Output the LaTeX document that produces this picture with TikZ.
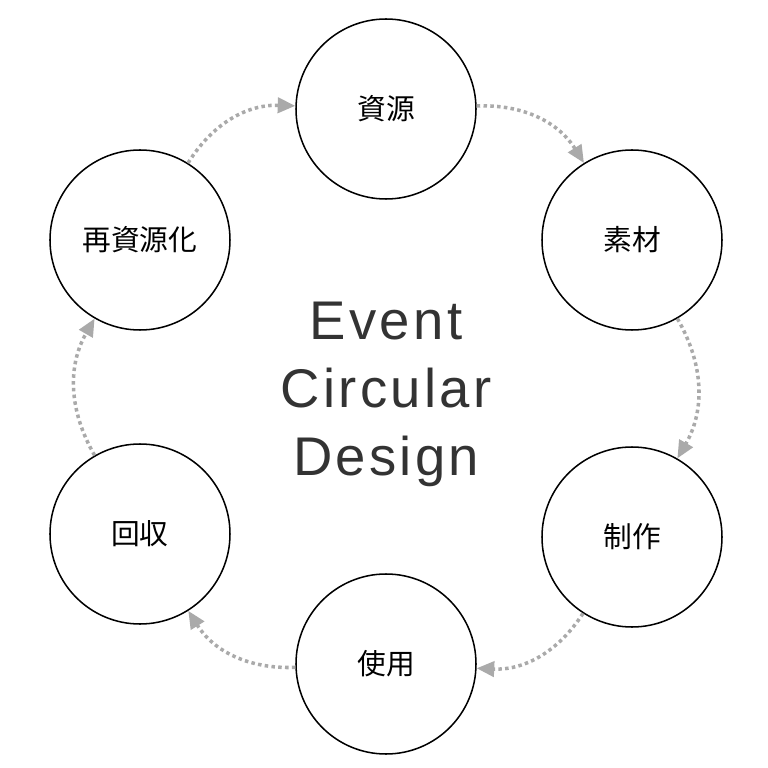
\documentclass[tikz,border=0pt]{standalone}
\usepackage{fontspec}
\newfontfamily\cjk{Noto Sans CJK JP}
\newfontfamily\heros[LetterSpace=6]{Liberation Sans}
\usetikzlibrary{arrows.meta}
\definecolor{flowgray}{RGB}{170,170,170}
\definecolor{titlegray}{RGB}{51,51,51}

\begin{document}
\begin{tikzpicture}[
  stage/.style={circle,draw,line width=1.3pt,minimum size=5.4cm,inner sep=0pt,
    font=\cjk\fontsize{24.5}{29}\selectfont},
  flow/.style={flowgray,line width=3pt,dash pattern=on 3pt off 2.8pt,
    -{Triangle[length=15pt,width=13pt]},bend left=30}]
  \useasboundingbox (-11.58,-11.43) rectangle (11.46,11.61);
  % the six stages of the cycle
  \node[stage] (res) at (0,8.34) {資源};
  \node[stage] (mat) at (7.38,4.41) {素材};
  \node[stage] (pro) at (7.38,-4.5) {制作};
  \node[stage] (use) at (0,-8.31) {使用};
  \node[stage] (col) at (-7.38,-4.41) {回収};
  \node[stage] (rec) at (-7.38,4.41) {再資源化};
  % title in the middle
  \node[align=center,text=titlegray,font=\heros\fontsize{46.5}{58}\selectfont]
    (title) at (0,-0.22) {Event\\Circular\\Design};
  % dotted arrows round the circle
  \draw[flow] (res) to (mat);
  \draw[flow] (mat) to (pro);
  \draw[flow] (pro) to (use);
  \draw[flow] (use) to (col);
  \draw[flow] (col) to (rec);
  \draw[flow] (rec) to (res);
\end{tikzpicture}
\end{document}
